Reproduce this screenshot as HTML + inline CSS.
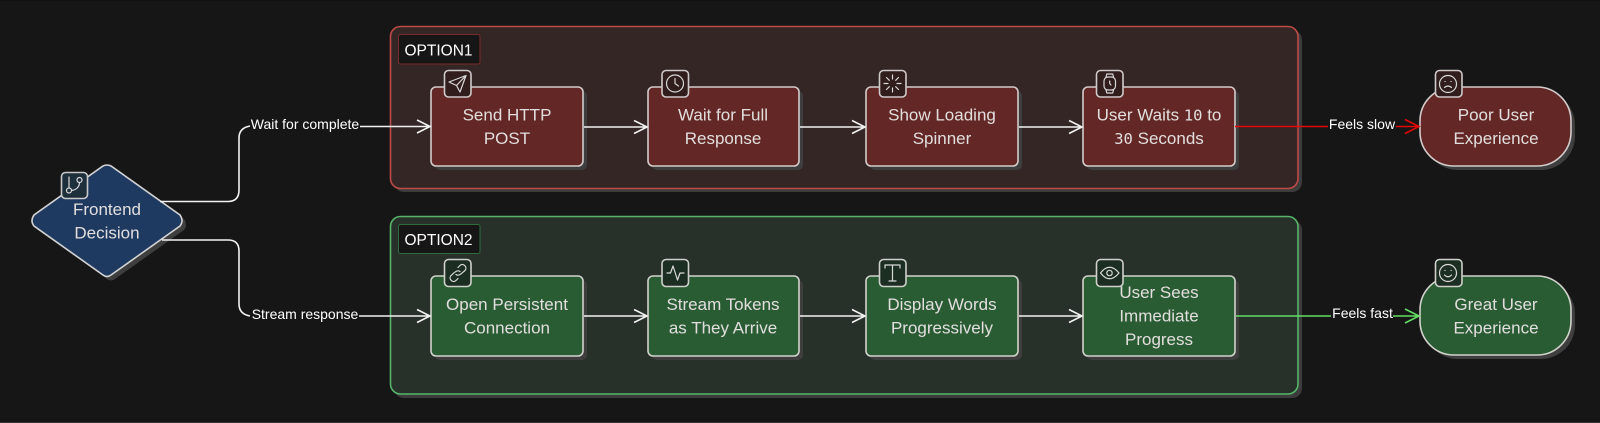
<!DOCTYPE html>
<html><head><meta charset="utf-8"><style>
html,body{margin:0;padding:0;background:#161616;width:1600px;height:423px;overflow:hidden}
svg{display:block;filter:blur(.3px)}
text{font-family:"Liberation Sans",sans-serif}
.n{font-size:17px;fill:#e2dede;text-anchor:middle}
.l{font-size:14px;fill:#fff;text-anchor:middle}
.o{font-size:15.5px;fill:#fff;text-anchor:middle}
.m{font-family:"DejaVu Sans Mono",monospace;font-size:15.5px}
.e{fill:none;stroke:#f2f2f2;stroke-width:1.6}
.s{fill:#3e3e3e}
.nr{fill:#632825;stroke:#d2cccc;stroke-width:1.6}
.ng{fill:#2a5c33;stroke:#d2d2cc;stroke-width:1.6}
.ir{fill:#301d1c;stroke:#cfcaca;stroke-width:1.6}
.ig{fill:#1c2e21;stroke:#cfd0cc;stroke-width:1.6}
.i{fill:none;stroke:#d8d8d8;stroke-width:1.2;stroke-linecap:round;stroke-linejoin:round}
</style></head><body>
<svg width="1600" height="423" viewBox="0 0 1600 423" xmlns="http://www.w3.org/2000/svg">
<rect width="1600" height="423" fill="#161616"/>
<rect y="0" width="1600" height="1" fill="#111"/>
<rect y="422" width="1600" height="1" fill="#333"/>

<!-- groups -->
<rect x="394" y="30" width="908" height="162" rx="10" fill="#3c3c3c"/>
<rect x="390.500" y="26.500" width="907.500" height="162" rx="10" fill="#332624" stroke="#bf4a46" stroke-width="1.6"/>
<rect x="398.500" y="34.500" width="81.500" height="29.500" rx="2" fill="#161616" stroke="#7a2c2a" stroke-width="1"/>
<text class="o" x="438.500" y="55.500">OPTION1</text>

<rect x="394" y="220" width="908" height="178" rx="10" fill="#3c3c3c"/>
<rect x="390.500" y="216.500" width="907.500" height="177.500" rx="10" fill="#28302a" stroke="#55b568" stroke-width="1.6"/>
<rect x="398.500" y="224.500" width="81.500" height="29" rx="2" fill="#161616" stroke="#2f6b3c" stroke-width="1"/>
<text class="o" x="438.500" y="245">OPTION2</text>

<!-- shadows -->
<g class="s">
<path d="M103 166Q107 164 111 166L180 215Q184 221 180 226L111 275Q107 278 103 275L34 226Q30 221 34 215Z" transform="translate(4,4)"/>
<rect x="435" y="91" width="152" height="79" rx="5"/><rect x="652" y="91" width="151" height="79" rx="5"/>
<rect x="870" y="91" width="152" height="79" rx="5"/><rect x="1087" y="91" width="152" height="79" rx="5"/>
<rect x="1424" y="91" width="151" height="79" rx="34"/>
<rect x="435" y="280" width="152" height="80" rx="5"/><rect x="652" y="280" width="151" height="80" rx="5"/>
<rect x="870" y="280" width="152" height="80" rx="5"/><rect x="1087" y="280" width="152" height="80" rx="5"/>
<rect x="1424" y="280" width="151" height="79" rx="34"/>
</g>

<!-- diamond -->
<path d="M103 166Q107 164 111 166L180 215Q184 221 180 226L111 275Q107 278 103 275L34 226Q30 221 34 215Z" fill="#1f3a60" stroke="#d2d2d2" stroke-width="1.6"/>
<rect x="61.500" y="172.500" width="26" height="26" rx="4" fill="#1e2f3c" stroke="#c8c8c8" stroke-width="1.6"/>
<g class="i"><path d="M69 177V188"/><circle cx="69" cy="190.500" r="2.500"/><circle cx="79.500" cy="180" r="2.500"/><path d="M79.500 182.500C79.500 187 76 190 71.500 190.500"/></g>
<text class="n" x="107" y="215">Frontend</text><text class="n" x="107" y="238.500">Decision</text>

<!-- row 1 nodes -->
<rect class="nr" x="431" y="87" width="152" height="79" rx="5"/>
<rect class="nr" x="648" y="87" width="151" height="79" rx="5"/>
<rect class="nr" x="866" y="87" width="152" height="79" rx="5"/>
<rect class="nr" x="1083" y="87" width="152" height="79" rx="5"/>
<rect class="nr" x="1420" y="87" width="151" height="79" rx="34"/>

<!-- row 2 nodes -->
<rect class="ng" x="431" y="276" width="152" height="80" rx="5"/>
<rect class="ng" x="648" y="276" width="151" height="80" rx="5"/>
<rect class="ng" x="866" y="276" width="152" height="80" rx="5"/>
<rect class="ng" x="1083" y="276" width="152" height="80" rx="5"/>
<rect class="ng" x="1420" y="276" width="151" height="79" rx="34"/>

<!-- edges -->
<path class="e" d="M160 201.500H228Q239 201.500 239 190V138Q239 128 250 126"/>
<path class="e" d="M360 126.500H430M417 120L430 126.500L417 133"/>
<path class="e" d="M162 240H228Q239 240 239 251V304Q239 314 250 316"/>
<path class="e" d="M359 316H430M417 309.500L430 316L417 322.500"/>
<path class="e" d="M584 127H647M634 120.500L647 127L634 133.500"/>
<path class="e" d="M800 127H865M852 120.500L865 127L852 133.500"/>
<path class="e" d="M1019 127H1082M1069 120.500L1082 127L1069 133.500"/>
<path class="e" d="M584 316H647M634 309.500L647 316L634 322.500"/>
<path class="e" d="M800 316H865M852 309.500L865 316L852 322.500"/>
<path class="e" d="M1019 316H1082M1069 309.500L1082 316L1069 322.500"/>
<path class="e" style="stroke:#e00808" d="M1235 126.500H1328M1396 126.500H1419M1405 119.500L1419 126.500L1405 133.500"/>
<path class="e" style="stroke:#62de62" d="M1236 316H1331M1393 316H1419M1405 309L1419 316L1405 323"/>

<!-- edge labels -->
<text class="l" x="305" y="129">Wait for complete</text>
<text class="l" x="305" y="319">Stream response</text>
<text class="l" x="1362" y="129">Feels slow</text>
<text class="l" x="1362.500" y="318">Feels fast</text>

<!-- row 1 text -->
<text class="n" x="507" y="120.500">Send HTTP</text><text class="n" x="507" y="144">POST</text>
<text class="n" x="723" y="120.500">Wait for Full</text><text class="n" x="723" y="144">Response</text>
<text class="n" x="942" y="120.500">Show Loading</text><text class="n" x="942" y="144">Spinner</text>
<text class="n" x="1159" y="120.500">User Waits <tspan class="m">10</tspan> to</text><text class="n" x="1159" y="144"><tspan class="m">30</tspan> Seconds</text>
<text class="n" x="1496" y="120.500">Poor User</text><text class="n" x="1496" y="144">Experience</text>

<!-- row 2 text -->
<text class="n" x="507" y="310">Open Persistent</text><text class="n" x="507" y="333.500">Connection</text>
<text class="n" x="723" y="310">Stream Tokens</text><text class="n" x="723" y="333.500">as They Arrive</text>
<text class="n" x="942" y="310">Display Words</text><text class="n" x="942" y="333.500">Progressively</text>
<text class="n" x="1159" y="298">User Sees</text><text class="n" x="1159" y="321.500">Immediate</text><text class="n" x="1159" y="345">Progress</text>
<text class="n" x="1496" y="310">Great User</text><text class="n" x="1496" y="333.500">Experience</text>

<!-- icon boxes row 1 -->
<rect class="ir" x="444.500" y="70.500" width="26.500" height="26.500" rx="4"/>
<g class="i"><path d="M449 82L466 75.500L460 92L456.500 85.500ZM456.500 85.500L466 75.500"/></g>
<rect class="ir" x="662" y="70.500" width="26.500" height="26.500" rx="4"/>
<g class="i"><circle cx="675" cy="83.500" r="8.500"/><path d="M675 78.500V83.500L678.500 86"/></g>
<rect class="ir" x="879.500" y="70.500" width="26.500" height="26.500" rx="4"/>
<g class="i"><path d="M892.500 75V79M892.500 88V92M884 83.500H888M897 83.500H901M886.500 77.500L889.300 80.300M895.700 86.700L898.500 89.500M886.500 89.500L889.300 86.700M895.700 80.300L898.500 77.500"/></g>
<rect class="ir" x="1096.500" y="70.500" width="26.500" height="26.500" rx="4"/>
<g class="i"><rect x="1104" y="77" width="11.500" height="13" rx="4"/><path d="M1106 77L1106.800 74H1112.700L1113.500 77M1106 90L1106.800 93H1112.700L1113.500 90M1109.700 81V83.500L1111 85"/></g>
<rect class="ir" x="1435.500" y="70.500" width="26.500" height="26.500" rx="4"/>
<g class="i"><circle cx="1448" cy="84" r="8.500"/><path d="M1444.500 87.500Q1448 84.500 1451.500 87.500"/><path d="M1445 81.500H1445.100M1451 81.500H1451.100"/></g>

<!-- icon boxes row 2 -->
<rect class="ig" x="444.500" y="259.500" width="26.500" height="27" rx="4"/>
<g class="i"><path d="M456 274.500C459 277 463 272 465 270.500C468 267 463 262.500 460 265.500L458 267.500"/><path d="M460 271.500C457 269 453 274 451 275.500C448 279 453 283.500 456 280.500L458 278.500"/></g>
<rect class="ig" x="662" y="259.500" width="26.500" height="27" rx="4"/>
<g class="i"><path d="M667 273H670.500L673 266L677.500 280L680 273H684"/></g>
<rect class="ig" x="879.500" y="259.500" width="26.500" height="27" rx="4"/>
<g class="i"><path d="M885 268V265H900V268M892.500 265V281M889 281H896"/></g>
<rect class="ig" x="1096.500" y="259.500" width="26.500" height="27" rx="4"/>
<g class="i"><path d="M1100.500 273Q1109.500 261.500 1119 273Q1109.500 284.500 1100.500 273Z"/><circle cx="1109.500" cy="273" r="2.700"/></g>
<rect class="ig" x="1435.500" y="259.500" width="26.500" height="27" rx="4"/>
<g class="i"><circle cx="1448" cy="273" r="8.500"/><path d="M1444.500 275Q1448 278.500 1451.500 275"/><path d="M1445 270.500H1445.100M1451 270.500H1451.100"/></g>
</svg>
</body></html>
